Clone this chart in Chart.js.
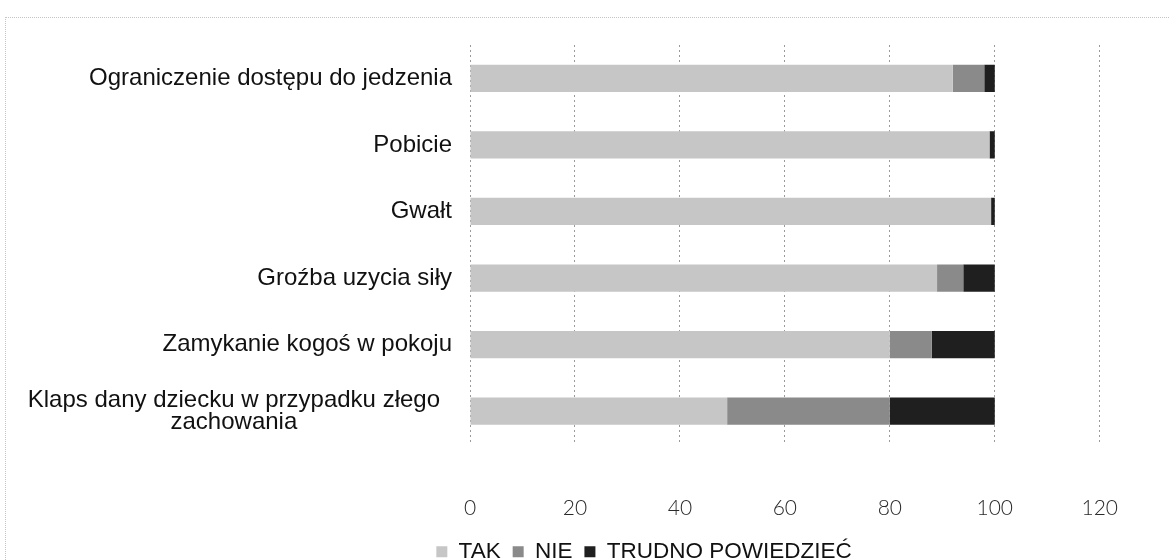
<!DOCTYPE html>
<html>
<head>
<meta charset="utf-8">
<script src="https://cdn.jsdelivr.net/npm/chart.js@4.4.1/dist/chart.umd.min.js"></script>
<style>
    html, body { margin: 0; padding: 0; background: #fff; }
    #wrap { position: relative; width: 1169px; height: 560px; }
    #frame {
        position: absolute; left: 5px; top: 17px; right: 0; bottom: 0;
        border-top: 1px dotted #c4c4c4; border-left: 1px dotted #c4c4c4;
    }
    canvas { position: absolute; left: 0; top: 0; }
</style>
</head>
<body>
<div id="wrap">
    <div id="frame"></div>
    <canvas id="chart" width="1169" height="560"></canvas>
</div>
<script>
const categories = [
    'Ograniczenie dostępu do jedzenia',
    'Pobicie',
    'Gwałt',
    'Groźba uzycia siły',
    'Zamykanie kogoś w pokoju',
    ['Klaps dany dziecku w przypadku złego', 'zachowania']
];
const seriesNames = ['TAK', 'NIE', 'TRUDNO POWIEDZIEĆ'];
const takValues = [92, 99, 99.3, 89, 80, 49];
const nieValues = [6, 0, 0, 5, 8, 31];
const trudnoValues = [2, 1, 0.7, 6, 12, 20];
const xTicks = [0, 20, 40, 60, 80, 100, 120];

const colors = ['#c6c6c6', '#8a8a8a', '#1f1f1f'];

// category labels drawn by hand so the wrapped one can be centred like in the original
const categoryLabels = {
    id: 'categoryLabels',
    afterDraw(chart) {
        const ctx = chart.ctx;
        const yScale = chart.scales.y;
        const right = chart.chartArea.left - 18;
        ctx.save();
        ctx.font = '24px "Liberation Sans", Arial, sans-serif';
        ctx.fillStyle = '#111';
        ctx.textBaseline = 'middle';
        categories.forEach((label, i) => {
            const y = yScale.getPixelForValue(i);
            const lines = Array.isArray(label) ? label : [label];
            const maxW = Math.max(...lines.map(l => ctx.measureText(l).width));
            const lineH = 22;
            const startY = y - (lines.length - 1) * lineH / 2;
            lines.forEach((line, j) => {
                if (lines.length > 1) {
                    ctx.textAlign = 'center';
                    ctx.fillText(line, right - 12 - maxW / 2, startY + j * lineH);
                } else {
                    ctx.textAlign = 'right';
                    ctx.fillText(line, right, startY);
                }
            });
        });
        ctx.restore();
    }
};

// nudge the legend to where it sits in the scan
const legendShift = {
    id: 'legendShift',
    afterLayout(chart) {
        const lg = chart.legend;
        const dy = 7, dx = 57;
        lg.top += dy; lg.bottom += dy;
        lg.left += dx; lg.right += dx;
    }
};

const ctx = document.getElementById('chart').getContext('2d');
new Chart(ctx, {
    type: 'bar',
    data: {
        labels: categories,
        datasets: [
            { label: seriesNames[0], data: takValues, backgroundColor: colors[0] },
            { label: seriesNames[1], data: nieValues, backgroundColor: colors[1] },
            { label: seriesNames[2], data: trudnoValues, backgroundColor: colors[2] }
        ]
    },
    options: {
        indexAxis: 'y',
        responsive: false,
        animation: false,
        layout: { padding: { left: 44, right: 39, top: 45, bottom: -6 } },
        datasets: {
            bar: { barPercentage: 0.41, categoryPercentage: 1, borderWidth: 0 }
        },
        scales: {
            x: {
                stacked: true,
                min: xTicks[0],
                max: xTicks[xTicks.length - 1],
                afterBuildTicks(scale) {
                    scale.ticks = xTicks.map(v => ({ value: v }));
                },
                afterFit(scale) { scale.height = 77; },
                grid: {
                    color: '#9a9a9a',
                    lineWidth: 1,
                    drawTicks: false
                },
                border: { display: false, dash: [2, 3] },
                ticks: {
                    padding: 51,
                    maxRotation: 0,
                    color: '#2a2a2a',
                    font: { family: 'Lato, "DejaVu Sans", sans-serif', size: 21, weight: 300 }
                }
            },
            y: {
                stacked: true,
                grid: { display: false },
                border: { display: false },
                ticks: { display: false },
                afterFit(scale) { scale.width = 426; }
            }
        },
        plugins: {
            tooltip: { enabled: false },
            legend: {
                position: 'bottom',
                labels: {
                    boxWidth: 11,
                    boxHeight: 11,
                    padding: 12,
                    color: '#111',
                    font: { family: '"Liberation Sans", Arial, sans-serif', size: 22.5 }
                }
            }
        }
    },
    plugins: [categoryLabels, legendShift]
});
</script>
</body>
</html>
